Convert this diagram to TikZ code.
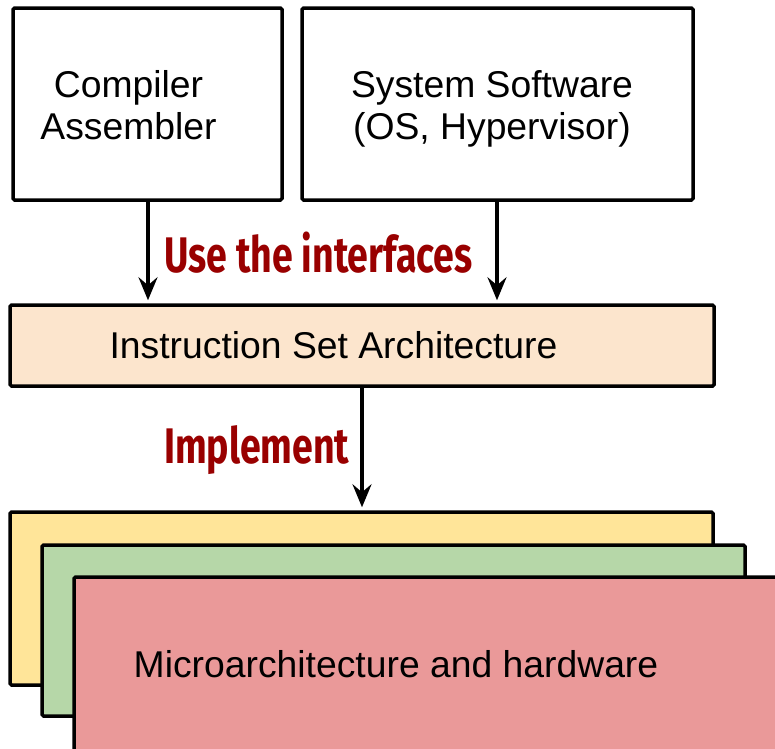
\documentclass[tikz,border=0pt]{standalone}
\usepackage{fontspec}
\setmainfont{Liberation Sans}
\newfontfamily\lblfont[FakeStretch=0.75]{Fira Sans Bold}
\usetikzlibrary{arrows.meta}
\definecolor{peach}{HTML}{FCE5CD}
\definecolor{yel}{HTML}{FFE599}
\definecolor{grn}{HTML}{B6D7A8}
\definecolor{rd}{HTML}{EA9999}
\definecolor{dred}{HTML}{990000}
\begin{document}
\begin{tikzpicture}[x=1pt,y=-1pt,
  box/.style={draw=black,line width=3.5pt,rounded corners=1.5pt,inner sep=0pt,anchor=center},
  txt/.style={inner sep=0pt,anchor=base,align=center,font=\fontsize{37.3}{42}\selectfont},
  lbl/.style={inner sep=0pt,anchor=base west,text=dred,font=\fontsize{50}{52}\selectfont\lblfont},
  arr/.style={line width=3.5pt,shorten >=3pt,-{Stealth[length=23pt,width=19pt,inset=8pt]}}]
\useasboundingbox (0,0) rectangle (775,748);
\begin{scope}
\clip (0,0) rectangle (775,748);
\node[box,minimum width=269pt,minimum height=192pt] (b1) at (147.5,104) {};
\node[box,minimum width=391pt,minimum height=192pt] (b2) at (497.5,104) {};
\node[box,fill=peach,minimum width=704pt,minimum height=81pt] (isa) at (362,345.5) {};
\node[box,fill=yel,minimum width=703pt,minimum height=173pt] (y) at (361.5,598.5) {};
\node[box,fill=grn,minimum width=703pt,minimum height=171pt] (g) at (393.5,630.5) {};
\node[box,fill=rd,minimum width=708pt,minimum height=177pt] (r) at (428,665.5) {};
\end{scope}
\node[txt] (t1a) at (128.5,97) {Compiler};
\node[txt] (t1b) at (128.5,139) {Assembler};
\node[txt] (t2a) at (492,97) {System Software};
\node[txt] (t2b) at (492,139) {(OS, Hypervisor)};
\node[txt] (t3) at (333.5,358) {Instruction Set Architecture};
\node[txt] (t4) at (396,677) {Microarchitecture and hardware};
\coordinate (a1) at (148,0);
\coordinate (a2) at (497,0);
\coordinate (a3) at (362,0);
\draw[arr] (b1.south -| a1) -- (isa.north -| a1);
\draw[arr] (b2.south -| a2) -- (isa.north -| a2);
\draw[arr] (isa.south -| a3) -- (y.north -| a3);
\node[lbl] (l1) at (164,272) {Use the interfaces};
\node[lbl] (l2) at (164,463) {Implement};
\end{tikzpicture}
\end{document}
